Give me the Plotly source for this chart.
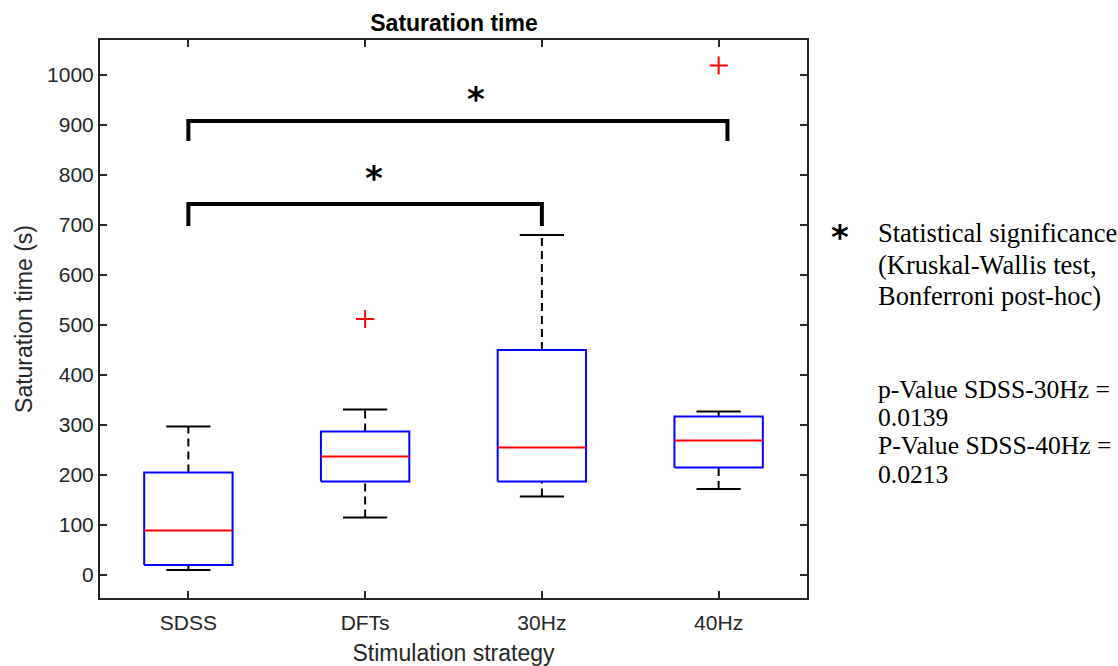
import plotly.graph_objects as go

# ---- data ----
categories = ["SDSS", "DFTs", "30Hz", "40Hz"]
lower_whisker = [10, 115, 157, 172]
q1 = [20, 187, 187, 215]
median = [89, 237, 255, 269]
q3 = [205, 287, 450, 317]
upper_whisker = [297, 331, 680, 327]
outlier_group = [2, 4]
outlier_value = [512, 1019]

# significance brackets: (from group, to group, level, drop-to level)
bracket_from = [1, 1]
bracket_to = [3, 4.05]
bracket_level = [742, 908]
bracket_drop = [698, 868]
star_x = [2.05, 2.63]
star_y = [802, 961]

y_ticks = list(range(0, 1001, 100))

# ---- styling ----
AX = "#262626"
BOX_HALF = 0.25
CAP_HALF = 0.125

fig = go.Figure()

pos = [i + 1 for i in range(len(categories))]

# whiskers (dashed) and caps
for i, x in enumerate(pos):
    for a, b in ((q3[i], upper_whisker[i]), (lower_whisker[i], q1[i])):
        fig.add_trace(go.Scatter(x=[x, x], y=[a, b], mode="lines",
                                 line=dict(color="black", width=2, dash="8px,5px"),
                                 hoverinfo="skip", showlegend=False))
    for v in (upper_whisker[i], lower_whisker[i]):
        fig.add_trace(go.Scatter(x=[x - CAP_HALF, x + CAP_HALF], y=[v, v], mode="lines",
                                 line=dict(color="black", width=2),
                                 hoverinfo="skip", showlegend=False))

# boxes
for i, x in enumerate(pos):
    fig.add_trace(go.Scatter(
        x=[x - BOX_HALF, x + BOX_HALF, x + BOX_HALF, x - BOX_HALF, x - BOX_HALF],
        y=[q1[i], q1[i], q3[i], q3[i], q1[i]], mode="lines",
        line=dict(color="#0000ff", width=2), hoverinfo="skip", showlegend=False))
    fig.add_trace(go.Scatter(x=[x - BOX_HALF, x + BOX_HALF], y=[median[i], median[i]],
                             mode="lines", line=dict(color="#ff0000", width=2),
                             hoverinfo="skip", showlegend=False))

# outliers
fig.add_trace(go.Scatter(x=outlier_group, y=outlier_value, mode="markers",
                         marker=dict(symbol="cross-thin", size=13,
                                     line=dict(color="#ff0000", width=2)),
                         hoverinfo="skip", showlegend=False))

# brackets
for i in range(len(bracket_from)):
    fig.add_trace(go.Scatter(
        x=[bracket_from[i], bracket_from[i], bracket_to[i], bracket_to[i]],
        y=[bracket_drop[i], bracket_level[i], bracket_level[i], bracket_drop[i]],
        mode="lines", line=dict(color="black", width=4),
        hoverinfo="skip", showlegend=False))

L, R, T, B = 100, 311, 40, 68
W, H = 1118, 666
PW, PH = W - L - R, H - T - B


def py(pix):
    return (H - B - pix) / PH


def px(pix):
    return (pix - L) / PW


STAR_FONT = dict(family="DejaVu Sans", size=34, color="black")
annotations = []
# stars over brackets
for sx, sy in zip(star_x, star_y):
    annotations.append(dict(text="<b>*</b>", x=sx, y=sy, xref="x", yref="y",
                            showarrow=False, xanchor="center", yanchor="middle",
                            font=STAR_FONT, yshift=-4))
annotations.append(dict(text="<b>*</b>", x=px(840), y=py(233), xref="paper", yref="paper",
                        showarrow=False, xanchor="center", yanchor="middle",
                        font=STAR_FONT, yshift=-4))
legend_lines = [("Statistical significance", 233, 26.5), ("(Kruskal-Wallis test,", 265, 26.5),
                ("Bonferroni post-hoc)", 296, 26.5),
                ("p-Value SDSS-30Hz =", 389, 25.6), ("0.0139", 417, 25.6),
                ("P-Value SDSS-40Hz =", 445, 25.6), ("0.0213", 474, 25.6)]
for txt, yy, fs in legend_lines:
    annotations.append(dict(text=txt, x=px(876), y=py(yy), xref="paper", yref="paper",
                            showarrow=False, xanchor="left", yanchor="middle",
                            font=dict(family="Liberation Serif", size=fs, color="black")))

fig.update_layout(
    width=W, height=H,
    margin=dict(l=L, r=R, t=T, b=B, autoexpand=False),
    paper_bgcolor="white", plot_bgcolor="white",
    title=dict(text="<b>Saturation time</b>", x=px(454), xref="paper", xanchor="center",
               y=1 - 23 / H, yanchor="middle",
               font=dict(family="Liberation Sans", size=23, color="black")),
    font=dict(family="Liberation Sans", color=AX),
    annotations=annotations,
    xaxis=dict(range=[0.5, 4.5], tickvals=pos, ticktext=categories,
               ticks="inside", ticklen=7, tickwidth=1.5, tickcolor=AX,
               showline=True, linecolor=AX, linewidth=2, mirror="allticks",
               showgrid=False, zeroline=False, ticklabelstandoff=5, automargin=False,
               tickfont=dict(size=21, color=AX),
               title=dict(text="Stimulation strategy", font=dict(size=23, color=AX), standoff=14)),
    yaxis=dict(range=[-46, 1070], tickvals=y_ticks,
               ticks="inside", ticklen=7, tickwidth=1.5, tickcolor=AX,
               showline=True, linecolor=AX, linewidth=2, mirror="allticks",
               showgrid=False, zeroline=False, automargin=False,
               tickfont=dict(size=21, color=AX),
               title=dict(text="Saturation time (s)", font=dict(size=23, color=AX), standoff=8)),
)

fig.write_html("out.html")
